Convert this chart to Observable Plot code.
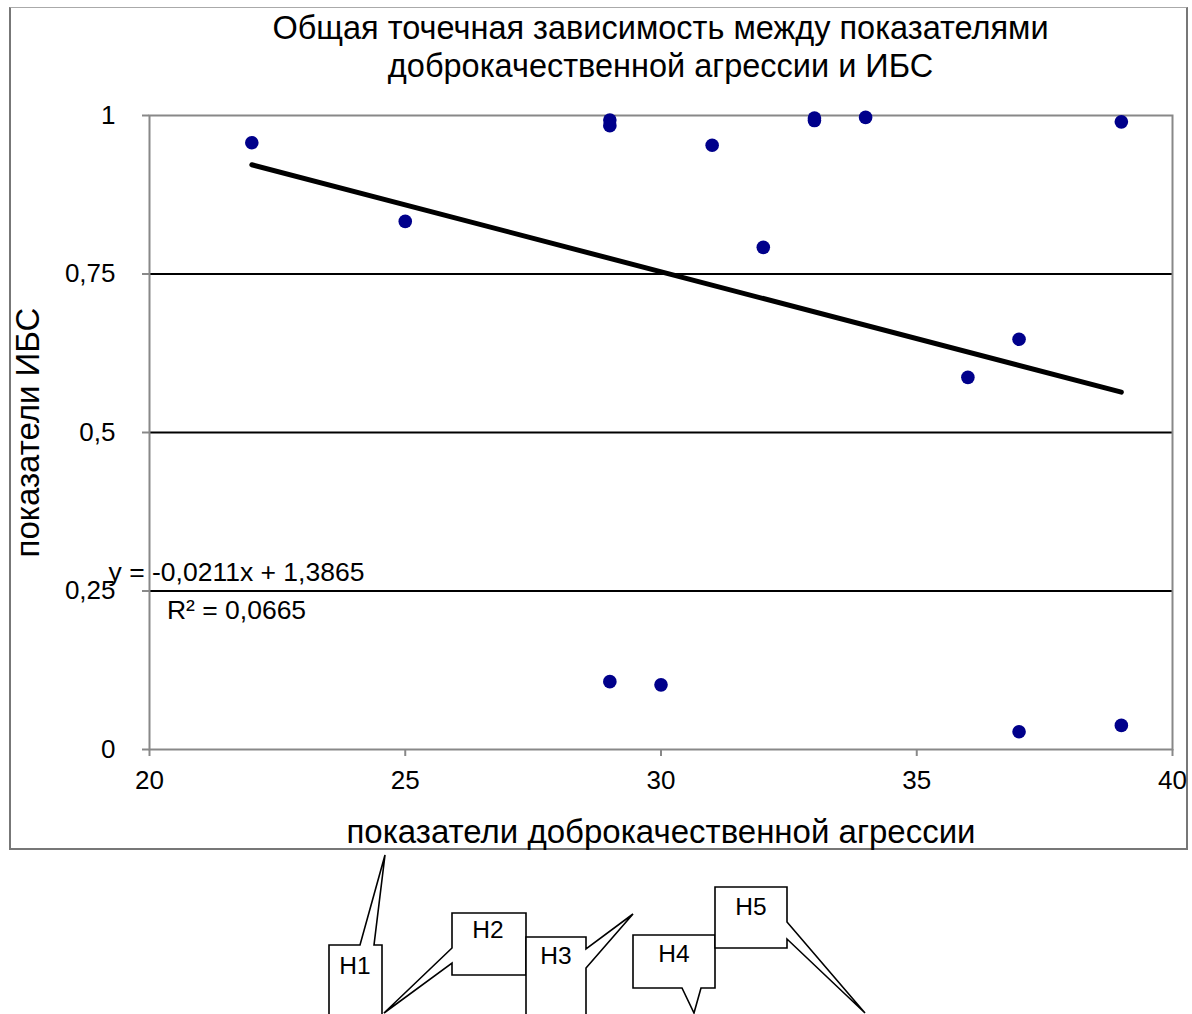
<!DOCTYPE html>
<html><head><meta charset="utf-8">
<script src="https://cdn.jsdelivr.net/npm/d3@7"></script>
<script src="https://cdn.jsdelivr.net/npm/@observablehq/plot@0.6"></script>
<style>
html,body{margin:0;padding:0;background:#fff;}
#wrap{position:relative;width:1192px;height:1014px;overflow:hidden;font-family:"Liberation Sans",Arial,Helvetica,sans-serif;}
#frame{position:absolute;left:9px;top:7px;width:1175px;height:840px;border:2px solid #777;border-top:1px solid #aaa;}
#title{position:absolute;left:149px;width:1023px;top:9px;text-align:center;font-size:32.5px;line-height:38px;color:#000;}
#chart{position:absolute;left:0;top:0;}
#callouts{position:absolute;left:0;top:0;}
</style></head>
<body><div id="wrap"><div id="frame"></div><div id="chart"></div><div id="title"></div><svg id="callouts" width="1192" height="1014"></svg></div>
<script>
// ---- data ----
const titleLines = ["Общая точечная зависимость между показателями", "доброкачественной агрессии и ИБС"];
const xLabel = "показатели доброкачественной агрессии";
const yLabel = "показатели ИБС";
const aggression = [22, 25, 29, 29, 29, 30, 31, 32, 33, 33, 34, 36, 37, 37, 39, 39];
const ibs = [0.957, 0.833, 0.993, 0.984, 0.107, 0.102, 0.953, 0.792, 0.996, 0.992, 0.997, 0.587, 0.647, 0.028, 0.038, 0.990];
const xTicks = [20, 25, 30, 35, 40];
const yTicks = [0, 0.25, 0.5, 0.75, 1];
const gridValues = [0.25, 0.5, 0.75];
const trendSlope = -0.0211;
const trendIntercept = 1.3865;
const trendRange = [22, 39];
const equationLines = ["y = -0,0211x + 1,3865", "R² = 0,0665"];
const calloutLabels = ["H1", "H2", "H3", "H4", "H5"];

// ---- derived tables ----
const points = aggression.map((x, i) => ({x, y: ibs[i]}));
const trend = trendRange.map(x => ({x, y: trendSlope * x + trendIntercept}));
const fmt = d => String(d).replace(".", ",");

document.getElementById("title").innerHTML = titleLines.join("<br>");

const font = '"Liberation Sans", Arial, Helvetica, sans-serif';
const chart = Plot.plot({
  width: 1192, height: 850,
  marginTop: 115, marginBottom: 101, marginLeft: 149, marginRight: 20,
  style: {fontFamily: font, fontSize: "26px", background: "transparent", color: "black"},
  x: {domain: [20, 40]},
  y: {domain: [0, 1]},
  marks: [
    Plot.ruleY(gridValues, {stroke: "black", strokeWidth: 2}),
    Plot.frame({stroke: "#888", strokeWidth: 2}),
    Plot.axisX({ticks: xTicks, tickSize: 7, tickPadding: 14, stroke: "#888", strokeWidth: 2, fill: "black", fontSize: 26, label: null}),
    Plot.axisY({ticks: yTicks, tickSize: 7, tickPadding: 27, tickFormat: fmt, stroke: "#888", strokeWidth: 2, fill: "black", fontSize: 26, label: null}),
    Plot.line(trend, {x: "x", y: "y", stroke: "#999", strokeWidth: 6, dx: 2, dy: 4, ariaLabel: "trend shadow"}),
    Plot.line(trend, {x: "x", y: "y", stroke: "black", strokeWidth: 5}),
    Plot.dot(points, {x: "x", y: "y", r: 6.8, fill: "#00008b", stroke: null}),
    Plot.text([equationLines.join("\n")], {text: d => d, frameAnchor: "bottom-left", textAnchor: "middle", lineAnchor: "middle", dx: 87, dy: -162, lineHeight: 1.45, fontSize: 26.5, fill: "black"}),
    Plot.text([yLabel], {text: d => d, frameAnchor: "left", textAnchor: "middle", rotate: -90, dx: -121, fontSize: 33, fill: "black"}),
    Plot.text([xLabel], {text: d => d, frameAnchor: "bottom", textAnchor: "middle", lineAnchor: "middle", dy: 83, fontSize: 33, fill: "black"})
  ]
});
d3.select(chart).select('g[aria-label="trend shadow"]').style("filter", "blur(1.5px)").attr("opacity", 0.7);
document.getElementById("chart").appendChild(chart);

// ---- decorative callout shapes below the chart ----
const calloutShapes = [
  [[329,1030],[329,945],[360,945],[385,855],[374,945],[382,945],[382,1030]],
  [[452,913],[526,913],[526,975],[452,975],[452,963],[384,1013],[452,948]],
  [[526,937],[586,937],[586,949],[633,914],[586,968],[586,1030],[526,1030]],
  [[633,935],[715,935],[715,988],[701,988],[694,1013],[682,988],[633,988]],
  [[715,887],[787,887],[787,922],[865,1013],[787,939],[787,948],[715,948]]
];
const calloutTextPos = [[355,965],[488,929],[556,955],[674,953],[751,906]];
const svg = d3.select("#callouts");
calloutShapes.forEach((pts, i) => {
  svg.append("polygon").attr("points", pts.map(p => p.join(",")).join(" "))
    .attr("fill", "white").attr("stroke", "black").attr("stroke-width", 1.6).attr("stroke-linejoin", "miter");
});
calloutLabels.forEach((t, i) => {
  svg.append("text").attr("x", calloutTextPos[i][0]).attr("y", calloutTextPos[i][1])
    .attr("text-anchor", "middle").attr("dominant-baseline", "central")
    .attr("font-family", font).attr("font-size", 24.5).text(t);
});
</script>
</body></html>
